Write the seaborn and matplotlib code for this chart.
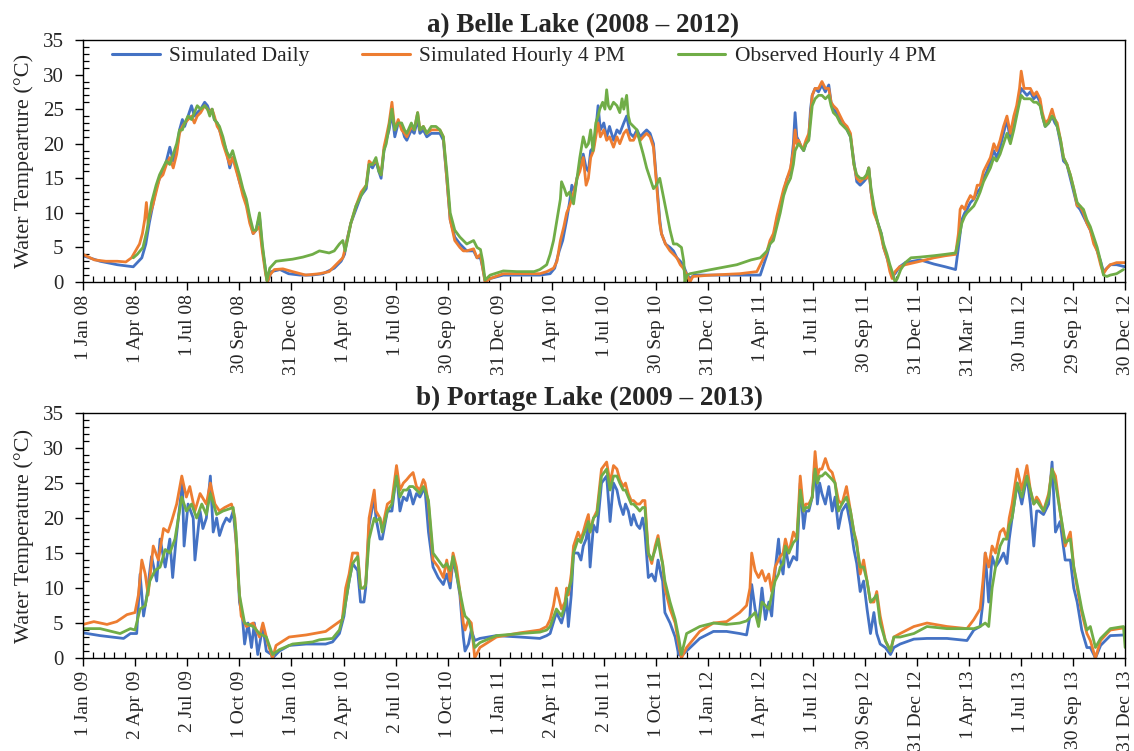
import numpy as np
import pandas as pd
import matplotlib
matplotlib.use("Agg")
import matplotlib.pyplot as plt
from matplotlib.ticker import MultipleLocator, FixedLocator
import seaborn as sns

# ---------------- data (day offset from panel start, water temperature °C) ----------------
series_names = ["Simulated Daily", "Simulated Hourly 4 PM", "Observed Hourly 4 PM"]
series_colors = ["#4472C4", "#ED7D31", "#70AD47"]

belle_title = "a) Belle Lake (2008 \u2013 2012)"
portage_title = "b) Portage Lake (2009 \u2013 2013)"
belle_ylabel = "Water Tempearture (\u00b0C)"
portage_ylabel = "Water Temperature (\u00b0C)"

belle_ticklabels = ["1 Jan 08", "1 Apr 08", "1 Jul 08", "30 Sep 08", "31 Dec 08", "1 Apr 09", "1 Jul 09",
                    "30 Sep 09", "31 Dec 09", "1 Apr 10", "1 Jul 10", "30 Sep 10", "31 Dec 10", "1 Apr 11",
                    "1 Jul 11", "30 Sep 11", "31 Dec 11", "31 Mar 12", "30 Jun 12", "29 Sep 12", "30 Dec 12"]
portage_ticklabels = ["1 Jan 09", "2 Apr 09", "2 Jul 09", "1 Oct 09", "1 Jan 10", "2 Apr 10", "2 Jul 10",
                      "1 Oct 10", "1 Jan 11", "2 Apr 11", "2 Jul 11", "1 Oct 11", "1 Jan 12", "1 Apr 12",
                      "1 Jul 12", "30 Sep 12", "31 Dec 12", "1 Apr 13", "1 Jul 13", "30 Sep 13", "31 Dec 13"]
panel_span_days = 1825

belle_sim_daily = [
    (0, 3.8), (30, 3.0), (60, 2.5), (88, 2.2), (95, 2.8), (103, 3.5), (110, 5.5), (116, 8.5), (122, 11),
    (128, 13.5), (134, 15), (140, 16), (146, 17.5), (152, 19.5), (158, 17.5), (164, 19), (169, 22),
    (174, 23.5), (178, 22.5), (184, 24), (190, 25.5), (195, 24), (200, 24.5), (206, 25), (213, 26),
    (218, 25.5), (222, 24.5), (226, 25), (230, 23.5), (235, 23), (239, 22), (245, 20.5), (251, 19),
    (257, 16.5), (262, 18), (267, 17), (274, 14.5), (280, 13), (286, 11.5), (292, 9), (298, 7),
    (303, 7.5), (309, 9.5), (314, 5), (320, 1.5), (323, 0), (330, 1.5), (345, 1.8), (360, 1.2),
    (380, 1.0), (400, 1.0), (420, 1.2), (440, 2.0), (452, 3.0), (458, 4), (462, 6), (469, 8.5),
    (478, 10.5), (487, 12.5), (496, 13.5), (501, 17), (507, 16.5), (513, 17.5), (518, 16), (522, 15),
    (527, 19), (531, 20.5), (536, 22), (541, 24.5), (546, 21), (552, 23), (558, 22.5), (563, 21),
    (567, 20.5), (575, 22), (580, 21.5), (586, 23.5), (590, 21.5), (596, 22), (602, 21), (610, 21.5),
    (618, 21.5), (625, 21.5), (631, 20.5), (637, 15), (643, 9), (651, 6.5), (660, 5.5), (666, 5),
    (672, 4.5), (684, 4.5), (690, 3.5), (696, 3.5), (700, 2), (704, 0.2), (713, 0.5), (736, 1.0),
    (760, 1.0), (800, 1.0), (818, 1.2), (826, 2), (834, 4.5), (840, 6), (847, 9), (852, 11.5),
    (856, 14), (861, 13), (865, 15), (870, 16.5), (876, 18.5), (881, 16.5), (885, 16), (889, 19),
    (894, 19.5), (898, 22), (902, 25.5), (906, 22), (912, 23), (917, 21), (922, 22.5), (929, 20.5),
    (935, 22), (940, 21.5), (947, 23), (952, 24), (958, 21.5), (964, 21), (970, 22), (976, 21),
    (981, 21.5), (987, 22), (993, 21.5), (999, 20), (1005, 14), (1010, 9), (1013, 7), (1020, 5.5),
    (1028, 5), (1034, 4.5), (1040, 3.5), (1046, 3), (1051, 2.5), (1058, 1.0), (1063, 0.5), (1070, 1.0),
    (1100, 1.0), (1150, 1.0), (1186, 1.0), (1192, 2.5), (1198, 4.0), (1203, 5.5), (1209, 6.5),
    (1215, 9), (1221, 11), (1227, 13), (1233, 15), (1239, 16), (1244, 20), (1247, 24.5), (1250, 21),
    (1253, 20.5), (1258, 19.5), (1262, 19), (1266, 20), (1271, 21), (1274, 25), (1277, 27), (1282, 28),
    (1288, 27.5), (1294, 28.5), (1300, 27.5), (1306, 28.5), (1310, 26), (1314, 25), (1320, 24.5),
    (1326, 23.5), (1332, 23), (1338, 22), (1344, 21), (1350, 17.5), (1355, 14.5), (1361, 14),
    (1367, 14.5), (1372, 15), (1376, 16.5), (1380, 13), (1385, 10.5), (1392, 8.5), (1398, 7),
    (1402, 5), (1408, 3.5), (1413, 2), (1417, 0.8), (1422, 1.2), (1430, 2.2), (1440, 2.8),
    (1466, 3.2), (1490, 2.6), (1510, 2.2), (1528, 1.8), (1533, 5), (1539, 9), (1544, 10),
    (1548, 10.5), (1554, 11.5), (1560, 12), (1566, 13), (1571, 13.5), (1577, 15), (1583, 16),
    (1589, 17.5), (1595, 19), (1600, 18), (1606, 19.5), (1612, 21.5), (1618, 23.5), (1624, 20.5),
    (1630, 23), (1635, 25), (1640, 27), (1643, 28), (1648, 27.5), (1653, 27), (1659, 27.5),
    (1665, 26.5), (1670, 27), (1676, 26), (1680, 24), (1685, 22.5), (1691, 23), (1697, 24),
    (1702, 23), (1706, 22.5), (1712, 20), (1717, 17.5), (1723, 17), (1729, 15), (1735, 13),
    (1741, 11), (1746, 10.5), (1752, 9.5), (1758, 8.5), (1764, 7.5), (1770, 6), (1776, 4.5),
    (1782, 3), (1787, 1.5), (1793, 2), (1799, 2.5), (1810, 2.5), (1825, 2.2)]

belle_sim_hourly = [
    (0, 4.0), (20, 3.2), (40, 3.0), (60, 3.0), (75, 2.9), (85, 3.5), (92, 4.5), (99, 5.5), (104, 7),
    (108, 9), (111, 11.5), (114, 8.5), (118, 10), (122, 11), (128, 13), (134, 15), (140, 15.5),
    (146, 17), (152, 18), (158, 16.5), (164, 18.5), (169, 21.5), (174, 22.5), (178, 23), (184, 23.5),
    (190, 24), (195, 23), (200, 24), (206, 24.5), (213, 25.5), (218, 25), (222, 24.5), (226, 25),
    (230, 24), (235, 22.5), (239, 22), (245, 20), (251, 18.5), (257, 17), (262, 18), (267, 16.5),
    (274, 14.5), (280, 12.5), (286, 11), (292, 8.5), (298, 7), (303, 7.5), (309, 8), (314, 4.5),
    (320, 1.0), (323, 0), (327, 1.0), (335, 1.8), (350, 1.9), (367, 1.5), (390, 1.0), (414, 1.2),
    (431, 1.5), (443, 2.5), (455, 3.5), (461, 5.5), (469, 8.5), (478, 11), (487, 13), (496, 14),
    (501, 17.5), (507, 17), (513, 17.5), (518, 16.5), (522, 15.5), (527, 19.5), (531, 21), (536, 23),
    (541, 26), (546, 22), (552, 23.5), (558, 22), (563, 21.5), (567, 21), (575, 22.5), (580, 22),
    (586, 24.5), (590, 22), (596, 22.5), (602, 21.5), (610, 22), (618, 22), (625, 22), (631, 21),
    (637, 15), (643, 9), (651, 6), (660, 5), (666, 4.5), (672, 4.5), (684, 4.8), (690, 3.5),
    (696, 4), (700, 2), (704, 0), (713, 0.5), (736, 1.2), (760, 1.2), (800, 1.2), (812, 1.5),
    (824, 2), (830, 3), (836, 6), (842, 8), (847, 10), (852, 11), (856, 12), (861, 13.5), (865, 15),
    (870, 16), (876, 18), (881, 14), (885, 15), (889, 18), (894, 19), (898, 21), (902, 23), (906, 21),
    (912, 22), (917, 20.5), (922, 21), (929, 19.5), (935, 21), (940, 20), (947, 21.5), (952, 22),
    (958, 20.5), (964, 20.5), (970, 21.5), (976, 20.5), (981, 21), (987, 21.5), (993, 21), (999, 19.5),
    (1005, 13.5), (1010, 8.5), (1013, 7), (1020, 5.5), (1028, 4.5), (1034, 4), (1040, 3.5), (1046, 2.5),
    (1051, 2), (1058, 1.0), (1063, 0), (1068, 0.8), (1100, 1.0), (1150, 1.2), (1180, 1.5), (1186, 2.5),
    (1192, 3.5), (1198, 4.5), (1203, 6), (1209, 7), (1215, 9.5), (1221, 11.5), (1227, 13.5),
    (1233, 15), (1239, 16.5), (1244, 19), (1247, 22), (1250, 20), (1253, 20.5), (1258, 19.5),
    (1262, 19.5), (1266, 20.5), (1271, 21.5), (1274, 24), (1277, 27), (1282, 28), (1288, 28),
    (1294, 29), (1300, 28), (1306, 28), (1310, 26), (1314, 25.5), (1320, 25), (1326, 24), (1332, 23),
    (1338, 22.5), (1344, 21.5), (1350, 17), (1355, 15), (1361, 14.5), (1367, 15), (1372, 15),
    (1376, 16.5), (1380, 13), (1385, 10), (1392, 8.5), (1398, 6.5), (1402, 5), (1408, 3.5),
    (1413, 1.5), (1417, 0.5), (1422, 1.5), (1430, 2.2), (1440, 2.5), (1466, 3), (1490, 3.5),
    (1510, 3.8), (1528, 4), (1533, 7), (1536, 10.5), (1539, 11), (1544, 10.5), (1548, 11.5),
    (1554, 12.5), (1560, 12), (1566, 14), (1571, 14), (1577, 16), (1583, 17), (1589, 18), (1595, 20),
    (1600, 19), (1606, 20.5), (1612, 22.5), (1618, 24), (1624, 21.5), (1630, 24), (1635, 25.5),
    (1640, 28), (1643, 30.5), (1648, 28), (1653, 28), (1659, 28), (1665, 27), (1670, 27.5),
    (1676, 26.5), (1680, 24.5), (1685, 23), (1691, 23.5), (1697, 25), (1702, 23.5), (1706, 23),
    (1712, 20.5), (1717, 18), (1723, 17), (1729, 15.5), (1735, 13.5), (1741, 11), (1746, 11),
    (1752, 10), (1758, 8.5), (1764, 7.5), (1770, 5.5), (1776, 4.5), (1782, 2.5), (1787, 1.2),
    (1793, 2), (1799, 2.5), (1810, 2.8), (1825, 2.8)]

belle_observed = [
    (88, 3.5), (95, 4.0), (105, 5.0), (112, 7.5), (120, 11.5), (128, 14), (134, 15.5), (140, 16.5),
    (146, 17.5), (152, 17), (158, 18.5), (164, 20), (169, 22), (174, 22), (178, 23), (184, 24),
    (190, 23.5), (195, 24.5), (200, 25.5), (206, 25), (213, 25.5), (218, 25), (222, 24), (226, 25),
    (230, 23.5), (235, 23), (239, 22.5), (245, 21), (251, 19), (257, 18), (262, 19), (267, 17.5),
    (274, 15.5), (280, 13.5), (286, 12), (292, 9.5), (298, 7.5), (303, 7.5), (309, 10), (314, 5.5),
    (320, 1.5), (322, 0.2), (327, 2), (338, 3), (367, 3.3), (385, 3.6), (402, 4), (414, 4.5),
    (431, 4.2), (440, 4.5), (449, 5.5), (455, 6), (459, 4.5), (463, 6), (469, 8.5), (478, 11),
    (487, 12.5), (496, 14), (501, 17), (507, 17), (513, 18), (518, 16), (522, 15.5), (527, 19),
    (531, 20), (536, 22.5), (541, 25), (546, 22), (552, 23), (558, 23), (563, 22), (567, 21.5),
    (575, 23), (580, 22), (586, 24.5), (590, 22), (596, 22.5), (602, 21.5), (610, 22.5), (618, 22.5),
    (625, 22), (631, 21), (637, 16), (643, 10), (651, 7.5), (660, 6.5), (666, 6), (672, 5.5),
    (684, 6), (690, 5), (696, 4.7), (700, 3), (704, 0.3), (713, 1.0), (736, 1.6), (760, 1.5),
    (790, 1.5), (800, 1.8), (812, 2.5), (818, 4), (824, 6), (830, 9), (836, 12), (838, 14.5),
    (843, 13.5), (847, 12.5), (852, 13), (859, 11.3), (865, 15), (870, 18), (876, 21), (881, 19.5),
    (885, 20), (889, 22), (893, 19), (898, 23), (902, 24), (905, 25), (910, 26), (914, 25),
    (917, 27.8), (920, 25.5), (923, 25), (929, 26), (935, 25.5), (940, 24.5), (944, 26.5), (947, 25),
    (952, 27), (955, 24), (958, 23), (964, 22.5), (970, 22), (976, 20), (981, 18.5), (987, 16.5),
    (993, 15), (999, 13.5), (1004, 14), (1010, 15), (1016, 12.5), (1022, 10), (1028, 7.5),
    (1034, 5.5), (1040, 5.5), (1048, 5), (1052, 3), (1054, 0), (1058, 1), (1063, 1.2), (1100, 1.8),
    (1145, 2.5), (1170, 3.2), (1186, 3.5), (1192, 4), (1198, 4.5), (1203, 5.5), (1209, 6), (1215, 8),
    (1221, 10), (1227, 12.5), (1233, 14), (1239, 15), (1244, 17), (1247, 19), (1250, 19.5),
    (1253, 20), (1258, 19.5), (1262, 19), (1266, 20), (1271, 20.5), (1274, 23), (1277, 25.5),
    (1282, 26.5), (1288, 27), (1294, 27), (1300, 26.5), (1306, 27), (1310, 25.5), (1314, 24.5),
    (1320, 24), (1326, 23), (1332, 22.5), (1338, 22), (1344, 21), (1350, 17), (1355, 15.5),
    (1361, 15), (1367, 15), (1372, 15.5), (1376, 16.5), (1380, 13.5), (1385, 11), (1392, 8.5),
    (1398, 7), (1402, 5.5), (1408, 4), (1413, 2.5), (1417, 1.5), (1422, 0), (1426, 0.5), (1432, 1.8),
    (1440, 2.8), (1450, 3.5), (1466, 3.6), (1490, 3.8), (1510, 4), (1528, 4.2), (1533, 6),
    (1539, 8.5), (1544, 9.5), (1548, 10), (1554, 10.5), (1560, 11), (1566, 12), (1571, 13),
    (1577, 14.5), (1583, 15.5), (1589, 16.5), (1595, 18), (1600, 17.5), (1606, 18.5), (1612, 20),
    (1618, 21.5), (1624, 20), (1630, 22), (1635, 24), (1640, 26), (1643, 27), (1648, 26.5),
    (1653, 26.5), (1659, 26.5), (1665, 26), (1670, 26), (1676, 25.5), (1680, 24), (1685, 22.5),
    (1691, 23), (1697, 24), (1702, 23.5), (1706, 22.5), (1712, 20.5), (1717, 18), (1723, 17),
    (1729, 15.5), (1735, 13.5), (1741, 11.5), (1746, 11), (1752, 10.5), (1758, 9), (1764, 8),
    (1770, 6.5), (1776, 5), (1782, 3), (1787, 1), (1793, 0.8), (1799, 1.0), (1810, 1.2), (1822, 1.8)]

portage_sim_daily = [
    (0, 3.6), (30, 3.2), (71, 2.8), (83, 3.5), (94, 3.5), (100, 12), (106, 6), (112, 9), (120, 14.5),
    (129, 11), (135, 17), (144, 13), (152, 17), (157, 11.5), (163, 17), (167, 20), (174, 25), (177, 16),
    (184, 22), (193, 20), (196, 14), (205, 21), (210, 18.5), (216, 20), (223, 26), (228, 18), (234, 20),
    (239, 17.5), (245, 19), (251, 20), (257, 19.5), (263, 21), (270, 15), (274, 8), (279, 6), (283, 2),
    (289, 5), (295, 1.5), (300, 5), (306, 0.5), (315, 4.5), (321, 1), (330, 0.5), (332, 0), (344, 1),
    (361, 1.8), (391, 2), (425, 2), (437, 2.3), (449, 3.5), (457, 6), (460, 8), (466, 11), (472, 13.5),
    (481, 12.5), (486, 8), (492, 8), (495, 10), (501, 19), (510, 23), (513, 20), (520, 17), (524, 17),
    (533, 21), (541, 21), (549, 26.5), (555, 21), (561, 23), (567, 22.5), (572, 24), (578, 22),
    (584, 23.5), (590, 23), (596, 24), (599, 24), (605, 18), (613, 13), (622, 11.5), (631, 10.5),
    (637, 12), (643, 10), (648, 14), (654, 12), (660, 9), (666, 3), (669, 1), (675, 2), (680, 4),
    (686, 2.5), (695, 2.8), (724, 3.2), (765, 3), (800, 2.8), (812, 3.2), (818, 3.5), (829, 6.5),
    (838, 5), (844, 7), (847, 8.5), (850, 4.5), (855, 9), (859, 15), (867, 15), (872, 14), (876, 16),
    (881, 17), (885, 19), (888, 13), (894, 19), (900, 18), (908, 25), (917, 26), (923, 19.5),
    (929, 25), (935, 24), (940, 22), (946, 20.5), (950, 22), (955, 21), (960, 19), (964, 20.5),
    (970, 19), (975, 18.5), (980, 20), (984, 18), (990, 11.5), (996, 12), (1002, 11), (1007, 14),
    (1012, 12), (1015, 11), (1019, 6.5), (1028, 5), (1037, 3), (1043, 0.5), (1048, 0.3), (1057, 1),
    (1080, 2.8), (1104, 3.8), (1127, 3.8), (1150, 3.5), (1162, 3.3), (1168, 6), (1171, 10.5),
    (1177, 7), (1183, 5), (1189, 10), (1195, 5.5), (1201, 8), (1206, 6), (1212, 12.5), (1218, 17),
    (1221, 14), (1226, 12), (1230, 16), (1236, 13), (1244, 14.5), (1250, 14), (1256, 25),
    (1262, 18.5), (1266, 21), (1271, 21), (1277, 23), (1282, 28), (1286, 22), (1290, 25),
    (1294, 23.5), (1300, 22), (1306, 24.5), (1312, 21), (1317, 23), (1323, 18.5), (1329, 21),
    (1337, 22), (1344, 19), (1350, 15.5), (1355, 13.5), (1361, 9.5), (1367, 11), (1373, 7),
    (1379, 3.5), (1385, 6.5), (1390, 3.5), (1396, 2), (1405, 1.5), (1414, 0.5), (1420, 1.5),
    (1431, 2.0), (1455, 2.7), (1478, 2.8), (1513, 2.8), (1548, 2.5), (1560, 4.0), (1571, 4.5),
    (1576, 8), (1580, 15), (1586, 8), (1592, 14.5), (1598, 13), (1606, 14), (1612, 15), (1618, 13.5),
    (1622, 17), (1627, 20), (1636, 25), (1644, 22), (1653, 26), (1659, 22), (1665, 16), (1670, 21),
    (1674, 21), (1682, 20.5), (1691, 22), (1697, 28), (1703, 18), (1711, 19.5), (1720, 14),
    (1729, 14), (1735, 10), (1741, 8), (1749, 4), (1758, 1.5), (1764, 1.5), (1773, 0), (1782, 1.8),
    (1799, 3.2), (1822, 3.3), (1825, 3.3)]

portage_sim_hourly = [
    (0, 4.8), (19, 5.2), (42, 4.8), (59, 5.2), (77, 6.2), (91, 6.5), (97, 9), (103, 14), (109, 12),
    (114, 9), (123, 16), (132, 14), (141, 18.5), (149, 18), (155, 19.5), (164, 22), (173, 26),
    (181, 23), (187, 24.5), (196, 21), (205, 23.5), (216, 22), (223, 25), (231, 22), (239, 21),
    (248, 21.5), (260, 22), (266, 20), (271, 12), (277, 6), (286, 4.5), (298, 5), (309, 3), (315, 5),
    (324, 2), (332, 0), (338, 1.8), (361, 3), (391, 3.3), (425, 3.8), (437, 4.5), (454, 5.5),
    (460, 10), (466, 12), (472, 15), (481, 15), (486, 10), (492, 10), (495, 10.5), (501, 20),
    (510, 24), (513, 21), (520, 20), (524, 18.5), (533, 22), (541, 22.5), (549, 27.5), (555, 24),
    (561, 25), (567, 25.5), (572, 26), (578, 26.5), (584, 24.5), (590, 24), (596, 25.5), (599, 25),
    (605, 22), (613, 14), (622, 13), (631, 11.5), (637, 14), (643, 11), (648, 15), (654, 13),
    (660, 9.5), (666, 5), (669, 4), (675, 5.5), (680, 5), (686, 0), (695, 1.5), (724, 3.0),
    (765, 3.6), (800, 4), (812, 4.5), (818, 5.5), (824, 7.5), (829, 10), (838, 7), (844, 8),
    (847, 10), (850, 9), (855, 12), (859, 16), (867, 18), (872, 17), (876, 18), (881, 19.5),
    (885, 20.5), (888, 18), (894, 20), (900, 21), (908, 27), (917, 28), (923, 25), (929, 27.5),
    (935, 27), (940, 25.5), (946, 24.5), (950, 25), (955, 23.5), (960, 22.5), (964, 22.5), (970, 22),
    (975, 22), (980, 22.5), (984, 22.5), (990, 15), (996, 13.5), (1002, 16), (1007, 17.5),
    (1012, 15), (1015, 13.5), (1019, 10), (1028, 7), (1037, 5), (1043, 2), (1048, 0), (1057, 1.5),
    (1080, 3.8), (1104, 5), (1127, 5.2), (1150, 6.5), (1162, 7.5), (1168, 10), (1171, 15),
    (1177, 12.5), (1183, 11.5), (1189, 12.5), (1195, 11), (1201, 12), (1206, 9.5), (1212, 13),
    (1218, 14), (1221, 14.5), (1226, 15), (1230, 17), (1236, 15), (1244, 18), (1250, 17), (1256, 26),
    (1262, 21), (1266, 22), (1271, 22), (1277, 23), (1282, 29.5), (1286, 26), (1290, 27), (1294, 27),
    (1300, 28.5), (1306, 27), (1312, 26.5), (1317, 25), (1323, 22.5), (1329, 22), (1337, 24.5),
    (1344, 21), (1350, 18), (1355, 16.5), (1361, 12), (1367, 14), (1373, 11), (1379, 8), (1385, 8),
    (1390, 9.5), (1396, 6), (1405, 2.5), (1414, 1), (1420, 3), (1431, 3.5), (1455, 4.5), (1478, 5.0),
    (1513, 4.5), (1548, 4.2), (1560, 5.5), (1571, 7), (1576, 11), (1580, 15), (1586, 13), (1592, 16),
    (1598, 15), (1606, 18), (1612, 18.5), (1618, 17), (1622, 20), (1627, 22), (1636, 27), (1644, 24),
    (1653, 27.5), (1659, 24), (1665, 22), (1670, 23), (1674, 22.5), (1682, 21), (1691, 23.5),
    (1697, 27), (1703, 26), (1711, 21), (1720, 16), (1729, 18), (1735, 13), (1741, 10), (1749, 6.5),
    (1758, 3.5), (1764, 2.5), (1773, 0), (1782, 2.5), (1799, 4.0), (1822, 4.3), (1825, 4.3)]

portage_observed = [
    (0, 4.2), (30, 4.2), (65, 3.5), (83, 4.2), (91, 4), (100, 7), (109, 7.5), (117, 11), (126, 12.5),
    (135, 13), (144, 15.5), (152, 15), (161, 17), (173, 23), (181, 21), (190, 22), (199, 20),
    (208, 22), (216, 20.5), (223, 23.5), (234, 20.5), (245, 21), (263, 21.5), (268, 18), (274, 9),
    (283, 5), (298, 4.5), (309, 3.5), (321, 3), (332, 0.5), (344, 1.2), (367, 2), (402, 2.3),
    (414, 2.6), (437, 2.8), (449, 4), (457, 6.5), (460, 8), (466, 11), (472, 13.5), (481, 14.5),
    (486, 10), (492, 10), (495, 10.5), (501, 17), (510, 20), (513, 19.5), (520, 20), (524, 18),
    (533, 21), (541, 22), (549, 26), (555, 23), (561, 24), (567, 24), (572, 24.5), (578, 24.5),
    (584, 24), (590, 23.5), (596, 24.5), (599, 24), (605, 22.5), (613, 15), (622, 14), (631, 13),
    (637, 13.5), (643, 12.5), (648, 14.5), (654, 12), (660, 9.5), (666, 7), (669, 6), (675, 5.5),
    (680, 4), (686, 1.5), (695, 2.2), (724, 3.2), (765, 3.5), (800, 3.7), (812, 4), (818, 4.5),
    (829, 7), (838, 6), (844, 7.5), (847, 9), (855, 11), (859, 15), (867, 17), (872, 16.5),
    (876, 17.5), (881, 18.5), (885, 19.5), (888, 18), (894, 20), (900, 20.5), (908, 26), (917, 27),
    (923, 24), (929, 26), (935, 26), (940, 25), (946, 24), (950, 24), (955, 23), (960, 22), (964, 22),
    (970, 21.5), (975, 21), (980, 21.5), (984, 21.5), (990, 15), (996, 14), (1002, 15.5), (1007, 17),
    (1012, 14.5), (1015, 13.5), (1019, 11), (1028, 8), (1037, 5.5), (1043, 3), (1048, 0.5),
    (1057, 3.5), (1080, 4.5), (1104, 5), (1127, 4.8), (1150, 5), (1162, 5.3), (1171, 6),
    (1177, 6.5), (1183, 4.5), (1189, 8), (1195, 7.5), (1201, 7), (1206, 9), (1212, 11), (1218, 12),
    (1221, 13), (1226, 13.5), (1230, 16), (1236, 15), (1244, 16.5), (1250, 17), (1256, 24), (1262, 21),
    (1266, 21.5), (1271, 21.5), (1277, 23), (1282, 27), (1286, 25), (1290, 26), (1294, 26),
    (1300, 26.5), (1306, 26), (1312, 25.5), (1317, 25), (1323, 21), (1329, 22), (1337, 23), (1344, 21),
    (1350, 18), (1355, 16), (1361, 13), (1367, 13), (1373, 11), (1379, 8), (1385, 8.5), (1390, 9),
    (1396, 5), (1405, 2.5), (1414, 1), (1420, 3), (1431, 3), (1455, 3.5), (1478, 4.5), (1513, 4.2),
    (1548, 4.2), (1560, 4.2), (1571, 4.5), (1580, 5), (1586, 4.5), (1592, 10), (1598, 13), (1606, 16),
    (1612, 17), (1618, 17), (1622, 19), (1627, 20), (1636, 25), (1644, 23), (1653, 26), (1659, 24),
    (1665, 22), (1670, 22.5), (1674, 22), (1682, 21), (1691, 23), (1697, 27), (1703, 25), (1711, 21),
    (1720, 16.5), (1729, 17), (1735, 13), (1741, 10.5), (1749, 7), (1758, 4), (1764, 4.5), (1773, 1.5),
    (1782, 2.8), (1799, 4.2), (1822, 4.5), (1825, 1.5)]


def to_frame(series_list):
    frames = []
    for name, pts in zip(series_names, series_list):
        d, v = zip(*pts)
        frames.append(pd.DataFrame({"day": d, "temp": v, "series": name}))
    return pd.concat(frames, ignore_index=True)


# ---------------- style ----------------
sns.set_style("ticks")
plt.rcParams["font.family"] = ["Liberation Serif", "DejaVu Serif"]
plt.rcParams["axes.linewidth"] = 1.0

fig = plt.figure(figsize=(11.34, 7.51), dpi=100)
ax_top = fig.add_axes([0.0732, 0.6245, 0.9190, 0.3222])
ax_bot = fig.add_axes([0.0732, 0.1238, 0.9190, 0.3262])

palette = dict(zip(series_names, series_colors))

panels = [
    (ax_top, [belle_sim_daily, belle_sim_hourly, belle_observed], belle_ticklabels, belle_ylabel),
    (ax_bot, [portage_sim_daily, portage_sim_hourly, portage_observed], portage_ticklabels, portage_ylabel),
]

for ax, data, ticklabels, ylabel in panels:
    df = to_frame(data)
    sns.lineplot(data=df, x="day", y="temp", hue="series", hue_order=series_names, palette=palette,
                 estimator=None, linewidth=2.0, ax=ax, legend=(ax is ax_top))
    ax.set_xlim(0, panel_span_days)
    ax.set_ylim(0, 35)
    ticks = np.linspace(0, panel_span_days, len(ticklabels))
    ax.xaxis.set_major_locator(FixedLocator(ticks))
    ax.set_xticklabels(ticklabels, rotation=90, fontsize=14)
    ax.xaxis.set_minor_locator(MultipleLocator(panel_span_days / (len(ticklabels) - 1) / 5))
    ax.yaxis.set_major_locator(MultipleLocator(5))
    ax.yaxis.set_minor_locator(MultipleLocator(1))
    ax.tick_params(axis="both", which="major", direction="out", length=6, width=1.0,
                   color="black", pad=3)
    ax.tick_params(axis="x", which="major", labelsize=14)
    ax.tick_params(axis="y", which="major", labelsize=15, pad=8)
    ax.tick_params(axis="both", which="minor", direction="in", length=4, width=0.9, color="black")
    ax.set_xlabel("")
    ax.set_ylabel(ylabel, fontsize=16, labelpad=6)
    for s in ax.spines.values():
        s.set_visible(True)
        s.set_color("black")
        s.set_linewidth(1.0)

handles, labels = ax_top.get_legend_handles_labels()
for h in handles:
    h.set_linewidth(2.2)
ax_top.legend(handles, labels, ncol=3, loc="upper left", bbox_to_anchor=(0.028, 0.975),
              frameon=False, fontsize=15.5, handlelength=2.2, handletextpad=0.45, columnspacing=2.45,
              borderaxespad=0, borderpad=0)

fig.text(583 / 1134, 1 - 32 / 751, belle_title, ha="center", va="baseline", fontsize=19.5, fontweight="bold")
fig.text(589 / 1134, 1 - 405 / 751, portage_title, ha="center", va="baseline", fontsize=19.5, fontweight="bold")

fig.savefig("out.png", dpi=100)
